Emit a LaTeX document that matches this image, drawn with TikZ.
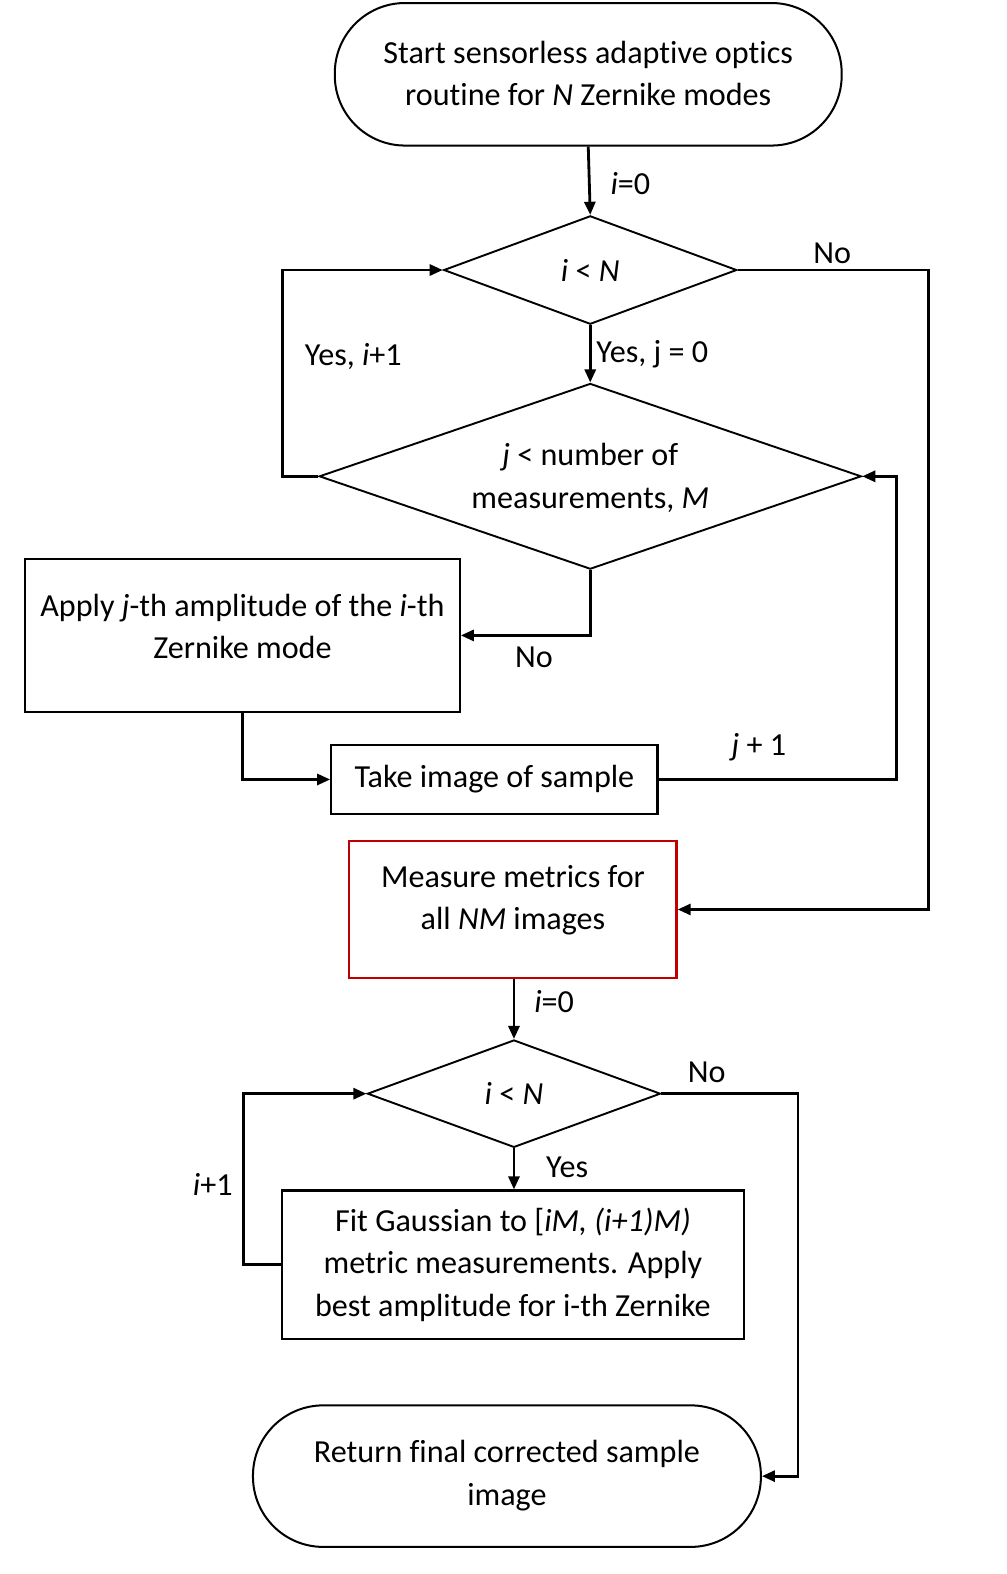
\documentclass[tikz,border=0pt]{standalone}
\usepackage{fontspec}
\setmainfont{Carlito}[Ligatures=NoCommon]
\usetikzlibrary{shapes.geometric,arrows.meta}
\begin{document}
\begin{tikzpicture}[x=1pt,y=-1pt,
  every node/.style={font=\fontsize{32}{42}\selectfont},
  box/.style={draw, line width=2.2pt, inner sep=0pt},
  term/.style={box, line width=2pt, rounded corners=70pt},
  dia/.style={draw, diamond, line width=1.9pt, inner sep=0pt, align=center},
  txt/.style={align=center, inner sep=0pt},
  lbl/.style={inner sep=0pt},
  arr/.style={line width=2.8pt, -{Triangle[length=13pt,width=11pt]}}]
\useasboundingbox (0,0) rectangle (1003,1568);
\fill[white] (0,0) rectangle (1003,1568);
% shapes
\node[term, minimum width=505pt, minimum height=142pt] (start) at (586,74) {};
\node[txt] (startT) at (586,73) {Start sensorless adaptive optics\\routine for \emph{N} Zernike modes};
\node[dia, aspect=2.7, minimum width=292pt, minimum height=108pt] (d1) at (588,269) {\emph{i} < \emph{N}};
\node[dia, aspect=2.92, minimum width=540pt, minimum height=185pt] (d2) at (588,474.5) {};
\node[txt] (d2T) at (588,476) {\emph{j} < number of\\measurements, \emph{M}};
\node[box, minimum width=433pt, minimum height=152pt] (apply) at (241.5,633) {};
\node[txt] (applyT) at (241.5,624) {Apply \emph{j}-th amplitude of the \emph{i}-th\\Zernike mode};
\node[box, minimum width=325pt, minimum height=69pt] (take) at (492.5,776.5) {Take image of sample};
\node[box, draw={rgb,255:red,192;green,0;blue,0}, minimum width=326pt, minimum height=136pt] (measure) at (511,906) {};
\node[txt] (measureT) at (511,897) {Measure metrics for\\all \emph{NM} images};
\node[dia, aspect=2.7, minimum width=292pt, minimum height=107pt] (d3) at (512,1089.5) {\emph{i} < \emph{N}};
\node[box, minimum width=460pt, minimum height=148pt, align=center] (fit) at (511,1260) {Fit Gaussian to [\emph{iM, (i+1)M)}\\metric measurements. Apply\\best amplitude for i-th Zernike};
\node[term, minimum width=506pt, minimum height=141pt] (ret) at (505,1470.5) {};
\node[txt] (retT) at (505,1470) {Return final corrected sample\\image};
% connectors
\draw[arr] (start.south) -- (d1.north);
\draw[arr] (d1.south) -- (d2.north);
\draw[arr] (d2.west) -- ++(-36,0) |- (d1.west);
\draw[arr] (d1.east) -- ++(190,0) |- (measure.east);
\draw[arr] (d2.south) |- (apply.east);
\draw[arr] (apply.south) |- (take.west);
\draw[arr] (take.east) -- ++(237,0) |- (d2.east);
\draw[arr] (measure.south -| d3.north) -- (d3.north);
\draw[arr] (d3.south) -- (d3.south |- fit.north);
\draw[arr] (fit.west) -- ++(-37,0) |- (d3.west);
\draw[arr] (d3.east) -- ++(136,0) |- (ret.east);
% labels
\node[lbl] (l1) at (628,183) {\emph{i}=0};
\node[lbl] (l2) at (829,252) {No};
\node[lbl] (l3) at (352,355) {Yes, \emph{i}+1};
\node[lbl, anchor=west] (l4) at (594,353) {Yes, j = 0};
\node[lbl] (l5) at (532,655) {No};
\node[lbl] (l6) at (756,744) {\emph{j} + 1};
\node[lbl] (l7) at (552,998) {\emph{i}=0};
\node[lbl] (l8) at (704,1068) {No};
\node[lbl] (l9) at (565,1163) {Yes};
\node[lbl] (l10) at (212,1180) {\emph{i}+1};
\end{tikzpicture}
\end{document}
